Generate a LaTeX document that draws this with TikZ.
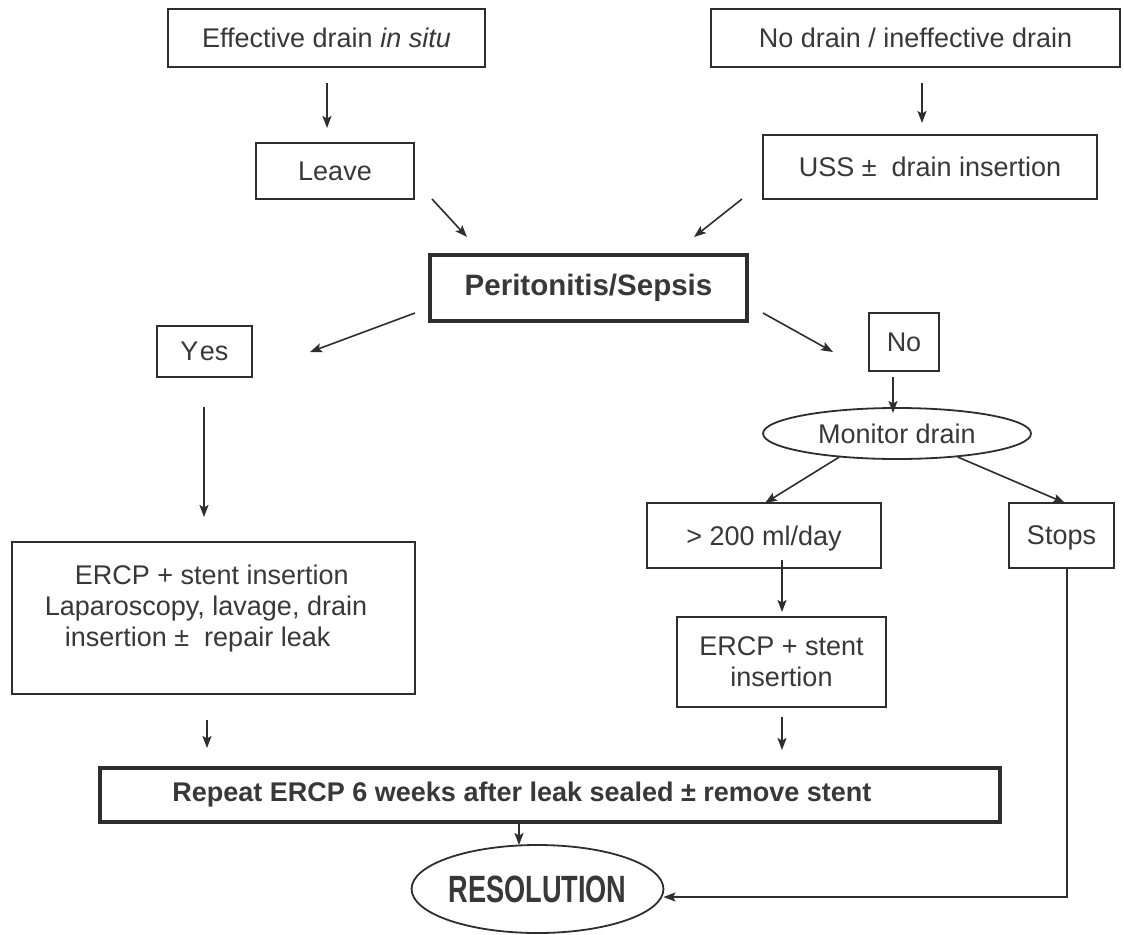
\documentclass[tikz,border=0pt]{standalone}
\usepackage{fontspec}
\setmainfont{Liberation Sans}
\usetikzlibrary{shapes.geometric,calc,arrows.meta}
\definecolor{ink}{HTML}{2E2E2E}
\definecolor{txt}{HTML}{383838}
\begin{document}
\begin{tikzpicture}[x=1pt,y=-1pt,
  base/.style={draw=ink, text=txt, inner sep=0pt, outer sep=0pt, font=\fontsize{27}{31}\selectfont, align=center},
  box/.style={base, rectangle, line width=1.8pt},
  thickbox/.style={base, rectangle, line width=4.5pt, font=\fontsize{27}{31}\selectfont\bfseries},
  oval/.style={base, ellipse, line width=1.8pt},
  arr/.style={draw=ink, line width=1.6pt, -{Stealth[length=12pt,width=9pt,inset=2.5pt]}}]
\fill[white] (0,0) rectangle (1124,934);
\useasboundingbox (0,0) rectangle (1124,934);

\node[box, minimum width=317pt, minimum height=58pt] (eff) at (326.5,38) {Effective drain \textit{in situ}};
\node[box, minimum width=409pt, minimum height=58pt] (nodr) at (915.5,38) {No drain / ineffective drain};
\node[box, minimum width=158pt, minimum height=56pt] (leave) at (335,171) {Leave};
\node[box, minimum width=334pt, minimum height=64pt] (uss) at (930,167) {USS ±~ drain insertion};
\node[thickbox, minimum width=317pt, minimum height=66pt, font=\fontsize{29.5}{33}\selectfont\bfseries] (peri) at (588.5,288) {Peritonitis/Sepsis};
\node[box, minimum width=95pt, minimum height=51pt] (yes) at (204.5,351.5) {Y\kern1.5pt es};
\node[box, minimum width=70pt, minimum height=58pt] (no) at (904,342) {No};
\node[oval, minimum width=268pt, minimum height=51pt] (mon) at (897,433.5) {Monitor drain};
\node[box, minimum width=234pt, minimum height=65pt] (gt) at (764,535.5) {\rule{0pt}{26pt}> 200 ml/day};
\node[box, minimum width=105pt, minimum height=65pt] (stops) at (1061.5,535.5) {\rule{0pt}{24pt}Stops};
\node[box, minimum width=403pt, minimum height=152pt, align=left] (ercpl) at (213.5,618)
  {\hspace*{30pt}ERCP + stent insertion\\Laparoscopy, lavage, drain\makebox[15pt]{}\\\hspace*{20pt}insertion ±~ repair leak\rule[-24pt]{0pt}{0pt}};
\node[box, minimum width=209pt, minimum height=90pt] (ercpm) at (781.5,662) {ERCP + stent\\insertion};
\node[thickbox, minimum width=900pt, minimum height=54pt] (rep) at (550,795) {Repeat ERCP 6 weeks after leak sealed ± remove stent\makebox[56pt]{}};
\node[oval, minimum width=225pt, minimum height=88pt, font=\fontsize{38}{40}\selectfont\bfseries] (res) at (537.5,889) {\raisebox{-4pt}{\scalebox{0.715}[1]{RESOLUTION}}};

\draw[arr] ($(eff.south)+(0.5,16)$) -- ($(leave.north)+(-8,-15)$);
\draw[arr] ($(nodr.south)+(6.5,16)$) -- ($(uss.north)+(-8,-12)$);
\draw[arr] ($(leave.south east)+(18,0)$) -- ($(peri.north west)+(37,-18)$);
\draw[arr] ($(uss.south west)+(-21,0)$) -- ($(peri.north east)+(-53,-18)$);
\draw[arr] ($(peri.west)+(-15,25)$) -- ($(yes.east)+(58,0.5)$);
\draw[arr] ($(peri.east)+(16,25)$) -- ($(no.west)+(-36,10)$);
\draw[arr] ($(yes.south)+(-0.5,30)$) -- ($(ercpl.north)+(-9.5,-25)$);
\draw[arr] ($(no.south)+(-11,6)$) -- ($(mon.north)+(-4,5)$);
\draw[arr] ($(mon.south west)+(37,5.5)$) -- ($(gt.north)+(1,0)$);
\draw[arr] ($(mon.south east)+(-34,5.5)$) -- ($(stops.north)+(3.5,0)$);
\draw[arr] ($(gt.south)+(18,-8)$) -- ($(ercpm.north)+(0.5,-5)$);
\draw[arr] ($(ercpl.south)+(-6.5,26)$) -- ($(rep.north west)+(107,-20)$);
\draw[arr] ($(ercpm.south)+(0.5,10)$) -- ($(rep.north west)+(682,-18)$);
\draw[arr] ($(rep.south)+(-31,0)$) -- ($(res.north)+(-18.5,0)$);
\draw[arr] ($(stops.south)+(5.5,0)$) |- ($(res.east)+(0,8)$);
\end{tikzpicture}
\end{document}
